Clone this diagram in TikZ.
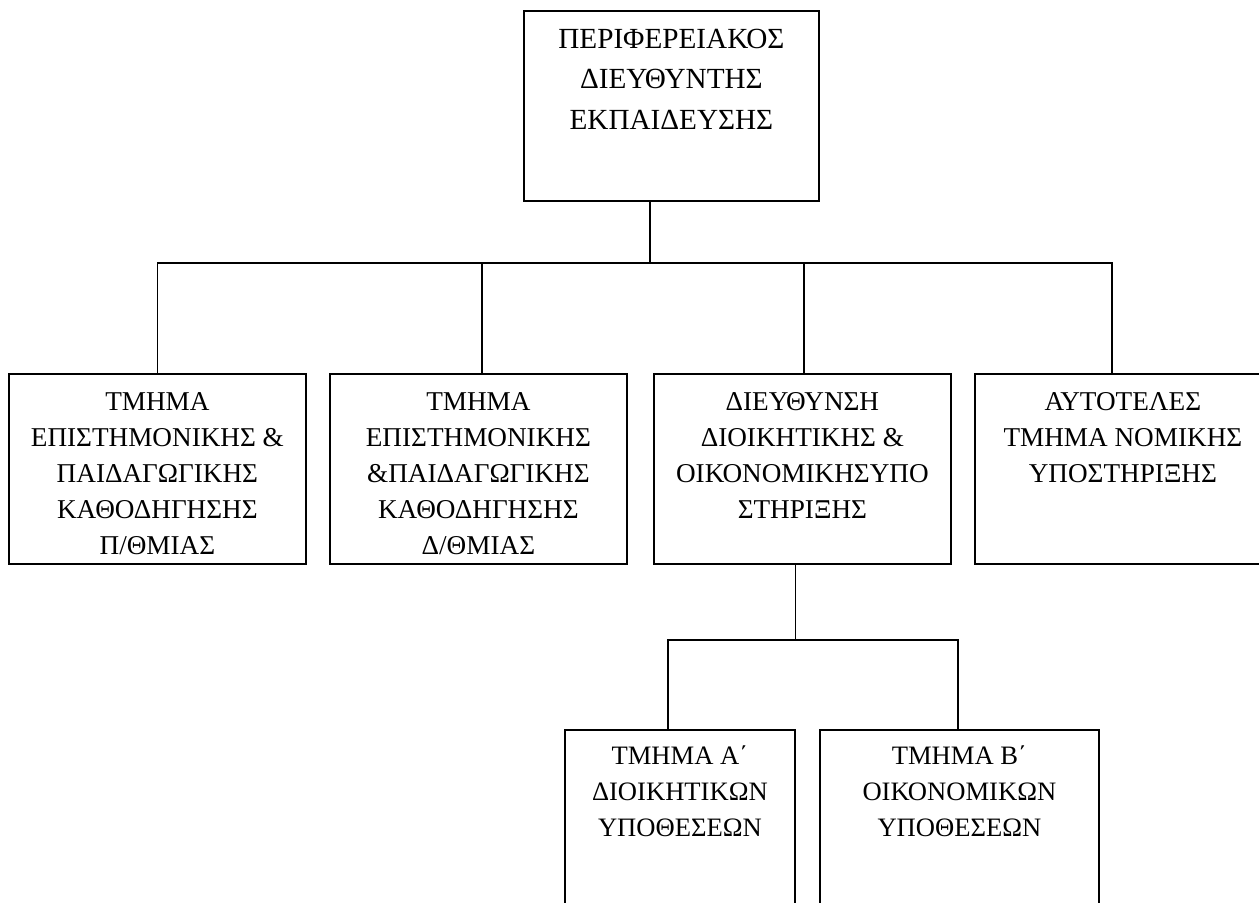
\documentclass[tikz,border=0pt]{standalone}
\usepackage{fontspec}
\setmainfont{Liberation Serif}
\usetikzlibrary{calc}

\newcommand{\boxlines}[3]{\parbox[t][#2][t]{#1}{\centering #3}}

\begin{document}
\begin{tikzpicture}[
  x = 0.5pt, y = -0.5pt,
  unit/.style = {draw, line width = 0.9pt, anchor = north west, inner xsep = 0pt, inner ysep = 9.5pt,
                 font = \fontsize{13.6pt}{17.9pt}\selectfont},
  head/.style = {unit, inner ysep = 9pt, font = \fontsize{14.6pt}{20.25pt}\selectfont},
  office/.style = {unit, inner ysep = 8pt, font = \fontsize{13.3pt}{18pt}\selectfont},
  link/.style = {line width = 0.9pt},
  ]
  \useasboundingbox (0,0) rectangle (1259,903);

  \node[head] (director) at (523,10)
    {\boxlines{147.5pt}{77pt}{ΠΕΡΙΦΕΡΕΙΑΚΟΣ\\ΔΙΕΥΘΥΝΤΗΣ\\ΕΚΠΑΙΔΕΥΣΗΣ}};

  \node[unit] (primary) at (8,373)
    {\boxlines{148.5pt}{76pt}{ΤΜΗΜΑ\\ΕΠΙΣΤΗΜΟΝΙΚΗΣ \&\\ΠΑΙΔΑΓΩΓΙΚΗΣ\\ΚΑΘΟΔΗΓΗΣΗΣ\\Π/ΘΜΙΑΣ}};
  \node[unit] (secondary) at (329,373)
    {\boxlines{148.5pt}{76pt}{ΤΜΗΜΑ\\ΕΠΙΣΤΗΜΟΝΙΚΗΣ\\\&ΠΑΙΔΑΓΩΓΙΚΗΣ\\ΚΑΘΟΔΗΓΗΣΗΣ\\Δ/ΘΜΙΑΣ}};
  \node[unit] (admin) at (653,373)
    {\boxlines{148.5pt}{76pt}{ΔΙΕΥΘΥΝΣΗ\\ΔΙΟΙΚΗΤΙΚΗΣ \&\\ΟΙΚΟΝΟΜΙΚΗΣΥΠΟ\\ΣΤΗΡΙΞΗΣ}};
  \node[unit] (legal) at (974,373)
    {\boxlines{148pt}{76pt}{ΑΥΤΟΤΕΛΕΣ\\ΤΜΗΜΑ ΝΟΜΙΚΗΣ\\ΥΠΟΣΤΗΡΙΞΗΣ}};

  \node[office] (deptA) at (564,729)
    {\boxlines{115pt}{84pt}{ΤΜΗΜΑ Α΄\\ΔΙΟΙΚΗΤΙΚΩΝ\\ΥΠΟΘΕΣΕΩΝ}};
  \node[office] (deptB) at (819,729)
    {\boxlines{139.5pt}{84pt}{ΤΜΗΜΑ Β΄\\ΟΙΚΟΝΟΜΙΚΩΝ\\ΥΠΟΘΕΣΕΩΝ}};

  \draw[link] ($(director.south)+(-21.5,0)$) -- ++(0,61) coordinate (bus);
  \draw[link] (primary.north) |- (bus);
  \draw[link] ($(secondary.north)+(3.5,0)$) |- (bus);
  \draw[link] ($(admin.north)+(1.5,0)$) |- (bus);
  \draw[link] ($(legal.north)+(-11,0)$) |- (bus);

  \draw[link] ($(admin.south)+(-7,0)$) -- ++(0,75) coordinate (subbus);
  \draw[link] ($(deptA.north)+(-12,0)$) |- (subbus);
  \draw[link] ($(deptB.north)+(-1.5,0)$) |- (subbus);
\end{tikzpicture}
\end{document}
